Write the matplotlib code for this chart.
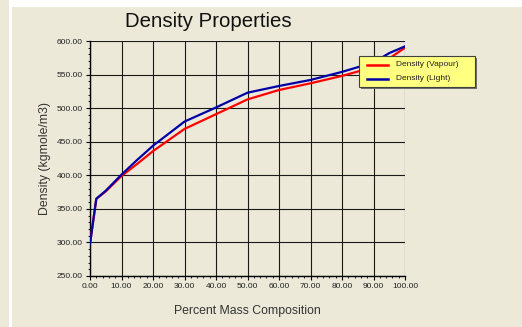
import matplotlib
matplotlib.use("Agg")
import matplotlib.pyplot as plt
from matplotlib.patches import Rectangle
from matplotlib.ticker import MultipleLocator, FormatStrFormatter

plt.rcParams['font.family'] = ['Liberation Sans', 'DejaVu Sans']

# Composition (percent by mass) and densities
composition = [0, 2, 5, 10, 15, 20, 30, 40, 50, 60, 70, 80, 90, 95, 100]
density_vapour = [298, 365, 376, 399, 417, 436, 469, 491, 513, 527, 537, 548, 561, 574, 590]
density_light = [298, 365, 377, 401, 423, 444, 480, 501, 523, 533, 542, 554, 568, 582, 592]

title = "Density Properties"
x_label = "Percent Mass Composition"
y_label = "Density (kgmole/m3)"
series_labels = ["Density (Vapour)", "Density (Light)"]

W, H = 522, 327
BG = '#ECE9D8'
fig = plt.figure(figsize=(W / 100, H / 100), dpi=100, facecolor=BG)

# white separator strips of the panel
fig.add_artist(Rectangle((9 / W, 0), 3 / W, 1, transform=fig.transFigure,
                         facecolor='white', edgecolor='none'))
fig.add_artist(Rectangle((12 / W, 1 - 7 / H), 1, 7 / H, transform=fig.transFigure,
                         facecolor='white', edgecolor='none'))

ax = fig.add_axes([90 / W, (H - 276) / H, 315 / W, 235 / H])
ax.set_facecolor(BG)

l1, = ax.plot(composition, density_vapour, color='#FF0000', lw=1.6,
              solid_joinstyle='round', zorder=3)
l2, = ax.plot(composition, density_light, color='#0000A8', lw=1.6,
              solid_joinstyle='round', zorder=4)

ax.set_xlim(0, 100)
ax.set_ylim(250, 600)
ax.xaxis.set_major_locator(MultipleLocator(10))
ax.yaxis.set_major_locator(MultipleLocator(50))
ax.xaxis.set_minor_locator(MultipleLocator(2))
ax.yaxis.set_minor_locator(MultipleLocator(10))
ax.xaxis.set_major_formatter(FormatStrFormatter('%.2f'))
ax.yaxis.set_major_formatter(FormatStrFormatter('%.2f'))

ax.grid(True, which='major', color='#1a1a1a', lw=0.8)
ax.set_axisbelow(True)
for side in ['top', 'right']:
    ax.spines[side].set_visible(False)
for side in ['left', 'bottom']:
    ax.spines[side].set_color('black')
    ax.spines[side].set_linewidth(1.0)

ax.tick_params(axis='both', which='major', labelsize=6, length=3, width=0.8,
               color='black', pad=2, labelcolor='#222222')
ax.tick_params(axis='both', which='minor', length=1.5, width=0.6, color='black')

fig.text(208 / W, 1 - 27 / H, title, fontsize=14.7, ha='center', va='baseline',
         color='#111111')
fig.text(247 / W, 1 - 311 / H, x_label, fontsize=8.8, ha='center', va='center',
         color='#333333')
fig.text(45 / W, 1 - 158 / H, y_label, fontsize=8.8, ha='center', va='center',
         rotation=90, color='#333333')

# legend box with drop shadow
lx0, ly0, lw_, lh_ = 359, 56, 116, 31
fig.add_artist(Rectangle(((lx0 + 2) / W, 1 - (ly0 + lh_ + 2) / H), lw_ / W, lh_ / H,
                         transform=fig.transFigure, facecolor='#707070',
                         edgecolor='none', zorder=9))
fig.add_artist(Rectangle((lx0 / W, 1 - (ly0 + lh_) / H), lw_ / W, lh_ / H,
                         transform=fig.transFigure, facecolor='#FFFF80',
                         edgecolor='#404040', lw=0.8, zorder=10))
for line, label, yy in [(l1, series_labels[0], 64.5), (l2, series_labels[1], 79)]:
    fig.add_artist(plt.Line2D([367 / W, 388 / W], [1 - yy / H, 1 - yy / H],
                              transform=fig.transFigure, color=line.get_color(),
                              lw=1.8, zorder=11))
    fig.text(396 / W, 1 - yy / H, label, fontsize=6, ha='left', va='center',
             color='#222222', zorder=11)

fig.savefig('out.png', dpi=100, facecolor=BG)
